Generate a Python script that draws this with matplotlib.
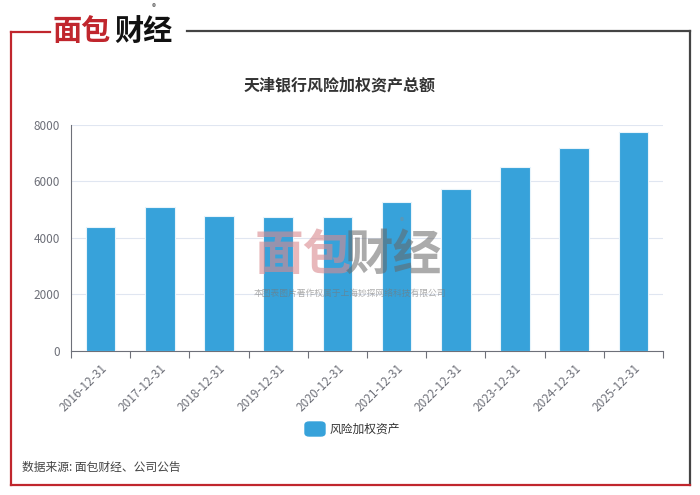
import matplotlib
matplotlib.use("Agg")
import matplotlib.pyplot as plt
from matplotlib.lines import Line2D
from matplotlib.patches import FancyBboxPatch

plt.rcParams['font.family'] = ['Noto Sans CJK SC', 'DejaVu Sans']

# data
dates = ['2016-12-31', '2017-12-31', '2018-12-31', '2019-12-31', '2020-12-31',
         '2021-12-31', '2022-12-31', '2023-12-31', '2024-12-31', '2025-12-31']
rwa = [4371, 5100, 4771, 4724, 4747, 5255, 5725, 6513, 7174, 7729]
yticks = [0, 2000, 4000, 6000, 8000]
title = '天津银行风险加权资产总额'
series_name = '风险加权资产'
source = '数据来源: 面包财经、公司公告'

W, H = 700, 495
bar_color = '#37a2da'
red = '#c0262d'
dark = '#333333'

fig = plt.figure(figsize=(W / 100, H / 100), dpi=100)

def px(x, y):
    return x / W, 1 - y / H

# frame
def fline(x0, y0, x1, y1, color, lw=1.6):
    a, b = px(x0, y0)
    c, d = px(x1, y1)
    fig.add_artist(Line2D([a, c], [b, d], color=color, lw=lw, transform=fig.transFigure))

fline(11, 32, 11, 485, red)
fline(11, 32, 50, 32, red)
fline(187, 31, 690, 31, '#444444')
fline(690, 31, 690, 485, '#444444')
fline(11, 485, 690, 485, red)

# top logo
x, y = px(52, 31)
fig.text(x, y, '面包', color=red, fontsize=21, fontweight='bold', va='center', ha='left')
x, y = px(114, 31)
fig.text(x, y, '财经', color='#111111', fontsize=21, fontweight='bold', va='center', ha='left')
x, y = px(154, 8)
fig.text(x, y, '®', color='#555555', fontsize=6, va='center', ha='center')

# title
x, y = px(340, 85)
fig.text(x, y, title, color=dark, fontsize=11.5, fontweight='bold', ha='center', va='center')

# axes
l, t = px(71, 124.7)
r, b = px(663, 351)
ax = fig.add_axes([l, b, r - l, t - b])
xs = list(range(len(dates)))
ax.bar(xs, rwa, width=0.5, color=bar_color, edgecolor='#e8f4fb', linewidth=0.8, zorder=3)
ax.set_xlim(-0.5, len(dates) - 0.5)
ax.set_ylim(0, 8000)
ax.set_yticks(yticks)
ax.set_yticklabels([str(v) for v in yticks], color='#6e7079', fontsize=8.5)
ax.grid(axis='y', color='#e0e6f1', lw=0.8, zorder=0)
ax.tick_params(axis='y', length=0, pad=8)
ax.set_xticks([i - 0.5 for i in range(len(dates) + 1)])
ax.set_xticklabels([])
ax.set_xticks(xs, minor=True)
ax.set_xticklabels(dates, minor=True, rotation=45, ha='right', rotation_mode='anchor',
                   color='#6e7079', fontsize=8.5)
ax.tick_params(axis='x', which='major', length=5, color='#6e7079', width=0.8)
ax.tick_params(axis='x', which='minor', length=0, pad=8)
for s in ['top', 'right']:
    ax.spines[s].set_visible(False)
ax.spines['left'].set_color('#6e7079')
ax.spines['bottom'].set_color('#6e7079')
ax.set_axisbelow(True)

# watermark
x, y = px(255, 255)
fig.text(x, y, '面包', color='#d98a8f', alpha=0.6, fontsize=35, fontweight='bold', ha='left', va='center')
x, y = px(345, 255)
fig.text(x, y, '财经', color='#666666', alpha=0.55, fontsize=35, fontweight='bold', ha='left', va='center')
x, y = px(402, 222)
fig.text(x, y, '®', color='#888888', alpha=0.6, fontsize=6, ha='center', va='center')
x, y = px(350, 293)
fig.text(x, y, '本图表图片著作权属于上海妙探网络科技有限公司', color='#777777', alpha=0.6,
         fontsize=6.3, ha='center', va='center')

# legend
x0, y0 = px(305, 436)
x1, y1 = px(325, 422)
fig.add_artist(FancyBboxPatch((x0, y0), x1 - x0, y1 - y0, boxstyle='round,pad=0,rounding_size=0.006',
                              transform=fig.transFigure, color=bar_color))
x, y = px(330, 429)
fig.text(x, y, series_name, color='#333333', fontsize=8.5, ha='left', va='center')

# source
x, y = px(22, 467)
fig.text(x, y, source, color='#444444', fontsize=8.5, ha='left', va='center')

fig.savefig('out.png', dpi=100)
